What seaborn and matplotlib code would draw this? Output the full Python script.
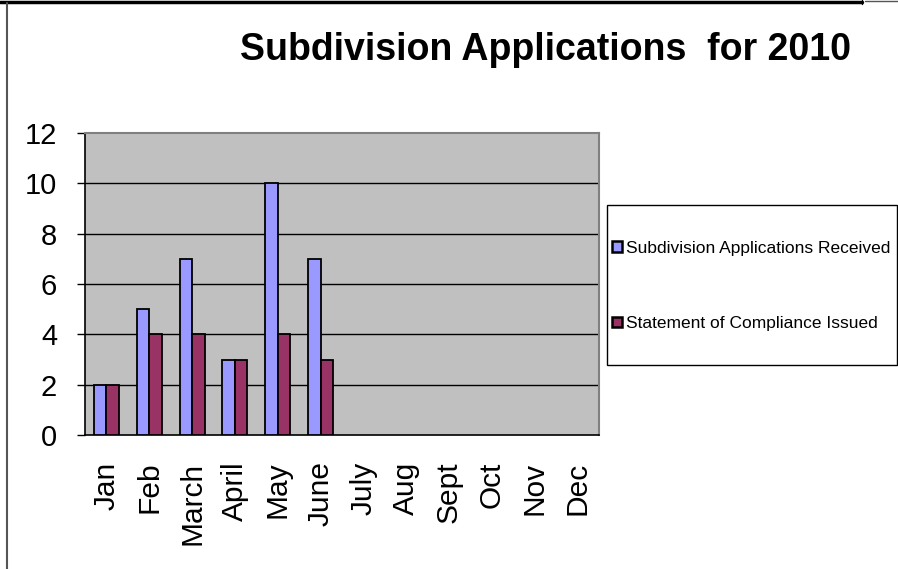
import matplotlib
matplotlib.use("Agg")
import matplotlib.pyplot as plt
from matplotlib.patches import Patch, Rectangle
from matplotlib.lines import Line2D
import seaborn as sns
import pandas as pd
import numpy as np

months = ["Jan", "Feb", "March", "April", "May", "June",
          "July", "Aug", "Sept", "Oct", "Nov", "Dec"]
data_months = ["Jan", "Feb", "March", "April", "May", "June"]
received = [2, 5, 7, 3, 10, 7]
issued = [2, 4, 4, 3, 4, 3]
series_names = ["Subdivision Applications Received", "Statement of Compliance Issued"]
colors = ["#9999FF", "#993366"]
yticks = [0, 2, 4, 6, 8, 10, 12]

df = pd.DataFrame({
    "month": data_months * 2,
    "value": received + issued,
    "series": [series_names[0]] * len(data_months) + [series_names[1]] * len(data_months),
})

sns.set_theme(style="white")
plt.rcParams["font.family"] = ["Liberation Sans", "DejaVu Sans"]
plt.rcParams["text.color"] = "black"
plt.rcParams["xtick.color"] = "black"
plt.rcParams["ytick.color"] = "black"
plt.rcParams["xtick.labelcolor"] = "black"
plt.rcParams["ytick.labelcolor"] = "black"

fig = plt.figure(figsize=(8.98, 5.69), dpi=100)
ax = fig.add_axes([85/898, 1-435/569, (599-85)/898, (435-133)/569])
ax.set_facecolor("#C0C0C0")

sns.barplot(data=df, x="month", y="value", hue="series", order=months,
            hue_order=series_names, palette=colors, saturation=1, width=0.58, gap=0,
            edgecolor="black", linewidth=1.3, ax=ax, legend=False, zorder=3)

ax.set_ylim(0, 12)
ax.set_xlim(-0.5, 11.5)
ax.set_yticks(yticks)
ax.set_yticklabels([str(v) for v in yticks], fontsize=21, color="black")
for v in yticks[1:-1]:
    ax.axhline(v, color="black", linewidth=1, zorder=1)

ax.set_xticks(range(12))
ax.set_xticklabels(months, rotation=90, fontsize=21.5, va="top", color="black")
ax.set_xticks(np.arange(-0.5, 12, 1), minor=True)
ax.tick_params(axis="x", which="major", length=0, pad=19)
ax.tick_params(axis="x", which="minor", length=8, width=1, color="black", direction="out")
ax.tick_params(axis="y", which="major", length=6, width=1, color="black", direction="out", pad=14)
ax.tick_params(axis="both", bottom=True, left=True)
ax.set_xlabel("")
ax.set_ylabel("")

for s in ["top", "right"]:
    ax.spines[s].set_color("#808080")
    ax.spines[s].set_linewidth(1.5)
for s in ["left", "bottom"]:
    ax.spines[s].set_color("black")
    ax.spines[s].set_linewidth(1.2)

fig.text(546/898, 1-50/569, "Subdivision Applications  for 2010", fontsize=27,
         fontweight="bold", ha="center", va="center", color="black")

handles = [Patch(facecolor=c, edgecolor="black", linewidth=1.8) for c in colors]
leg = fig.legend(handles, series_names, loc="center left",
                 bbox_to_anchor=(612/898, 1-286/569), bbox_transform=fig.transFigure,
                 fontsize=12.5, frameon=False, handlelength=0.55,
                 handleheight=0.55, handletextpad=0.25, labelspacing=3.5,
                 borderpad=0, borderaxespad=0, labelcolor="black")
fig.add_artist(Rectangle((607/898, 1-365/569), (897-607)/898, (365-205)/569,
                         transform=fig.transFigure, facecolor="none",
                         edgecolor="black", linewidth=1))

# outer frame lines
fig.add_artist(Line2D([0, 862/898], [1-1.5/569, 1-1.5/569], transform=fig.transFigure,
                      color="black", linewidth=2.5))
fig.add_artist(Line2D([862/898, 862/898], [1, 1-4/569], transform=fig.transFigure,
                      color="black", linewidth=1))
fig.add_artist(Line2D([865/898, 1], [1-1/569, 1-1/569], transform=fig.transFigure,
                      color="#555555", linewidth=1))
fig.add_artist(Line2D([7/898, 7/898], [0, 1-3/569], transform=fig.transFigure,
                      color="#555555", linewidth=1.5))

fig.savefig("out.png", dpi=100)
